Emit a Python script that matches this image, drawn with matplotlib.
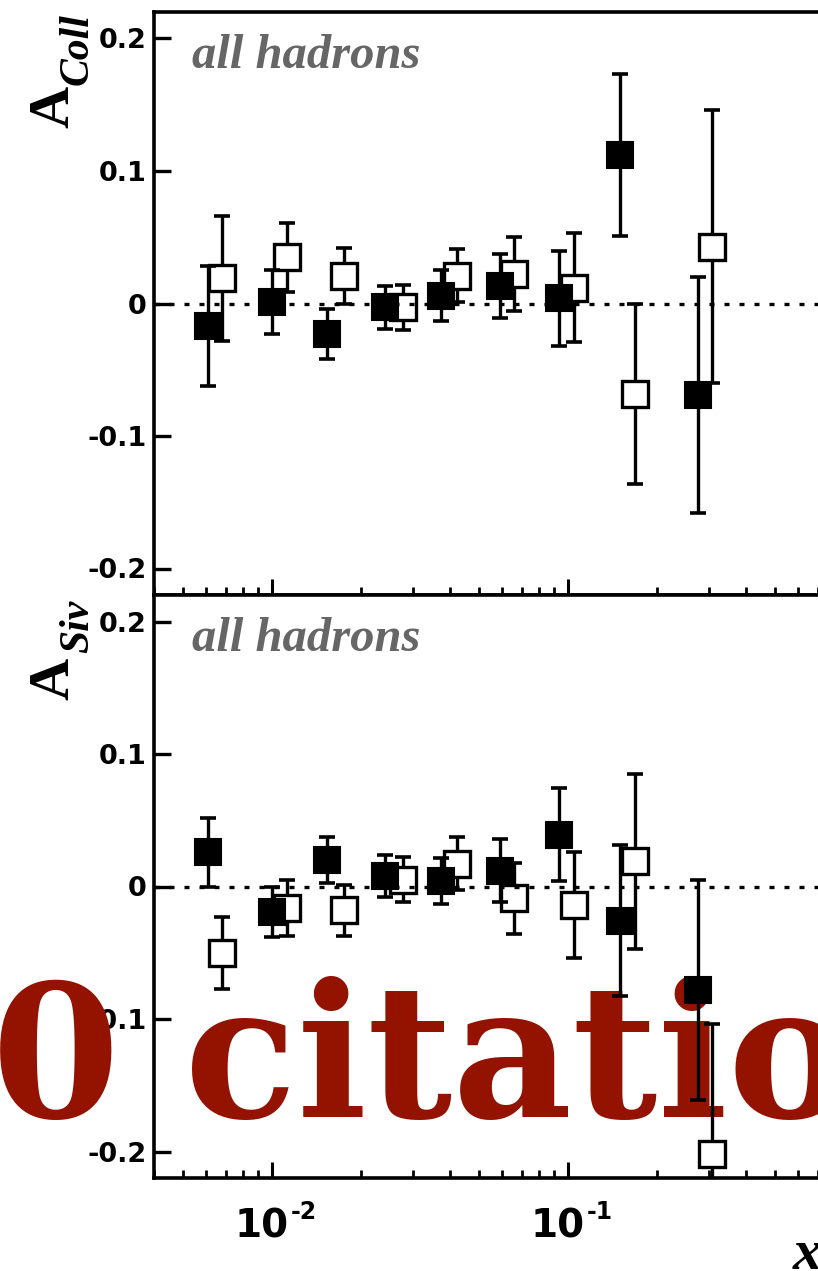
import numpy as np
import matplotlib
matplotlib.use("Agg")
import matplotlib.pyplot as plt
from matplotlib.ticker import FixedLocator, LogLocator, NullFormatter, FuncFormatter, NullLocator
from matplotlib.transforms import blended_transform_factory, ScaledTranslation

# ---- data -------------------------------------------------------------
x_filled = [0.00606, 0.0100, 0.0153, 0.0241, 0.0372, 0.0587, 0.0935, 0.150, 0.274]
x_open = [0.00676, 0.0112, 0.0175, 0.0276, 0.0421, 0.0657, 0.1048, 0.168, 0.306]

coll_filled = [-0.017, 0.001, -0.023, -0.003, 0.006, 0.013, 0.004, 0.112, -0.069]
coll_filled_err = [0.045, 0.024, 0.019, 0.016, 0.019, 0.024, 0.036, 0.061, 0.089]
coll_open = [0.019, 0.035, 0.021, -0.003, 0.021, 0.022, 0.012, -0.068, 0.043]
coll_open_err = [0.047, 0.026, 0.021, 0.017, 0.020, 0.028, 0.041, 0.068, 0.103]

siv_filled = [0.026, -0.019, 0.020, 0.008, 0.004, 0.012, 0.039, -0.026, -0.078]
siv_filled_err = [0.026, 0.019, 0.017, 0.016, 0.0175, 0.024, 0.035, 0.057, 0.083]
siv_open = [-0.050, -0.016, -0.018, 0.005, 0.017, -0.009, -0.014, 0.019, -0.202]
siv_open_err = [0.027, 0.021, 0.019, 0.017, 0.020, 0.027, 0.040, 0.066, 0.098]

y_ticks = [-0.2, -0.1, 0.0, 0.1, 0.2]
x_tick_values = [1e-2, 1e-1]
x_tick_exponents = ["-2", "-1"]
panel_label = "all hadrons"
badge_text = "10 citations"

# ---- figure -----------------------------------------------------------
W, H, DPI = 818, 1271, 100
plt.rcParams["axes.unicode_minus"] = False
fig = plt.figure(figsize=(W / DPI, H / DPI), dpi=DPI)
fig.patch.set_facecolor("white")


def px_box(left, top, right, bottom):
    return [left / W, 1 - bottom / H, (right - left) / W, (bottom - top) / H]


AX_LEFT, AX_RIGHT = 154.2, 864.0
ax1 = fig.add_axes(px_box(AX_LEFT, 12, AX_RIGHT, 595))
ax2 = fig.add_axes(px_box(AX_LEFT, 595, AX_RIGHT, 1178))

tick_font = dict(family="DejaVu Sans", weight="bold")


def style_axes(ax):
    ax.set_xscale("log")
    ax.set_xlim(0.004, 1.0)
    ax.set_ylim(-0.22, 0.22)
    for side in ["left", "top", "bottom", "right"]:
        ax.spines[side].set_linewidth(2.6)
    ax.xaxis.set_major_locator(FixedLocator([1e-3, 1e-2, 1e-1, 1.0]))
    ax.xaxis.set_minor_locator(LogLocator(base=10, subs=np.arange(2, 10), numticks=20))
    ax.xaxis.set_major_formatter(NullFormatter())
    ax.xaxis.set_minor_formatter(NullFormatter())
    ax.yaxis.set_major_locator(FixedLocator(y_ticks))
    ax.yaxis.set_minor_locator(NullLocator())
    ax.yaxis.set_major_formatter(
        FuncFormatter(lambda v, p: "0" if abs(v) < 1e-9 else f"{v:.1f}"))
    ax.tick_params(axis="x", which="major", direction="in", length=11.5,
                   width=2.2, top=False, bottom=True)
    ax.tick_params(axis="x", which="minor", direction="in", length=6,
                   width=2.0, top=False, bottom=True)
    ax.tick_params(axis="y", which="major", direction="in", length=12,
                   width=2.4, left=True, right=False, pad=5.5)
    for lab in ax.get_yticklabels():
        lab.set_fontfamily(tick_font["family"])
        lab.set_fontweight(tick_font["weight"])
        lab.set_fontsize(19.5)


def draw_panel(ax, yf, ef, yo, eo):
    ax.axhline(0, color="black", lw=2.4, linestyle=(0, (1.5, 3.0)), zorder=4.5)
    ax.errorbar(x_open, yo, yerr=eo, fmt="none", ecolor="black",
                elinewidth=2.4, capsize=5.8, capthick=2.6, zorder=3)
    ax.plot(x_open, yo, "s", ms=18.5, mfc="white", mec="black", mew=2.4,
            ls="none", zorder=4)
    ax.errorbar(x_filled, yf, yerr=ef, fmt="none", ecolor="black",
                elinewidth=2.4, capsize=5.8, capthick=2.6, zorder=5)
    ax.plot(x_filled, yf, "s", ms=18.5, mfc="black", mec="black", mew=1.5,
            ls="none", zorder=6)
    ax.text((192 - AX_LEFT) / (AX_RIGHT - AX_LEFT), 1 - 56 / 583, panel_label,
            transform=ax.transAxes, ha="left", va="baseline",
            family="Liberation Serif", weight="bold", style="italic",
            fontsize=35, color="#666666", zorder=7)


style_axes(ax1)
style_axes(ax2)
draw_panel(ax1, coll_filled, coll_filled_err, coll_open, coll_open_err)
draw_panel(ax2, siv_filled, siv_filled_err, siv_open, siv_open_err)

# decade labels under the lower panel
xlab_tr = blended_transform_factory(ax2.transData, fig.transFigure)
for xv, ex in zip(x_tick_values, x_tick_exponents):
    ax2.text(xv, 1 - 1237 / H, "10",
             transform=xlab_tr + ScaledTranslation(12.2 / 72, 0, fig.dpi_scale_trans),
             ha="right", va="baseline", fontsize=28, clip_on=False, **tick_font)
    ax2.text(xv, 1 - 1219 / H, ex,
             transform=xlab_tr + ScaledTranslation(13.7 / 72, 0, fig.dpi_scale_trans),
             ha="left", va="baseline", fontsize=17, clip_on=False, **tick_font)

# axis titles
serif_b = dict(family="Liberation Serif", weight="bold")
serif_bi = dict(family="Liberation Serif", weight="bold", style="italic")
for base_y, sub_y, sub in [(128, 85, "Coll"), (700, 653, "Siv")]:
    fig.text(68 / W, 1 - base_y / H, "A", rotation=90, rotation_mode="anchor",
             ha="left", va="baseline", fontsize=42, **serif_b)
    fig.text(88 / W, 1 - sub_y / H, sub, rotation=90, rotation_mode="anchor",
             ha="left", va="baseline", fontsize=30, **serif_bi)
fig.text(793 / W, 1 - 1269 / H, "x", ha="left", va="baseline", fontsize=42,
         **serif_bi)

# citation badge across the lower panel
ax2.text(-137 / W, 1 - 1117 / H, badge_text, transform=fig.transFigure,
         ha="left", va="baseline", family="DejaVu Serif", weight="bold",
         fontsize=133, color="#941200", zorder=2.6, clip_on=False)

fig.savefig("out.png", dpi=DPI, facecolor="white")
